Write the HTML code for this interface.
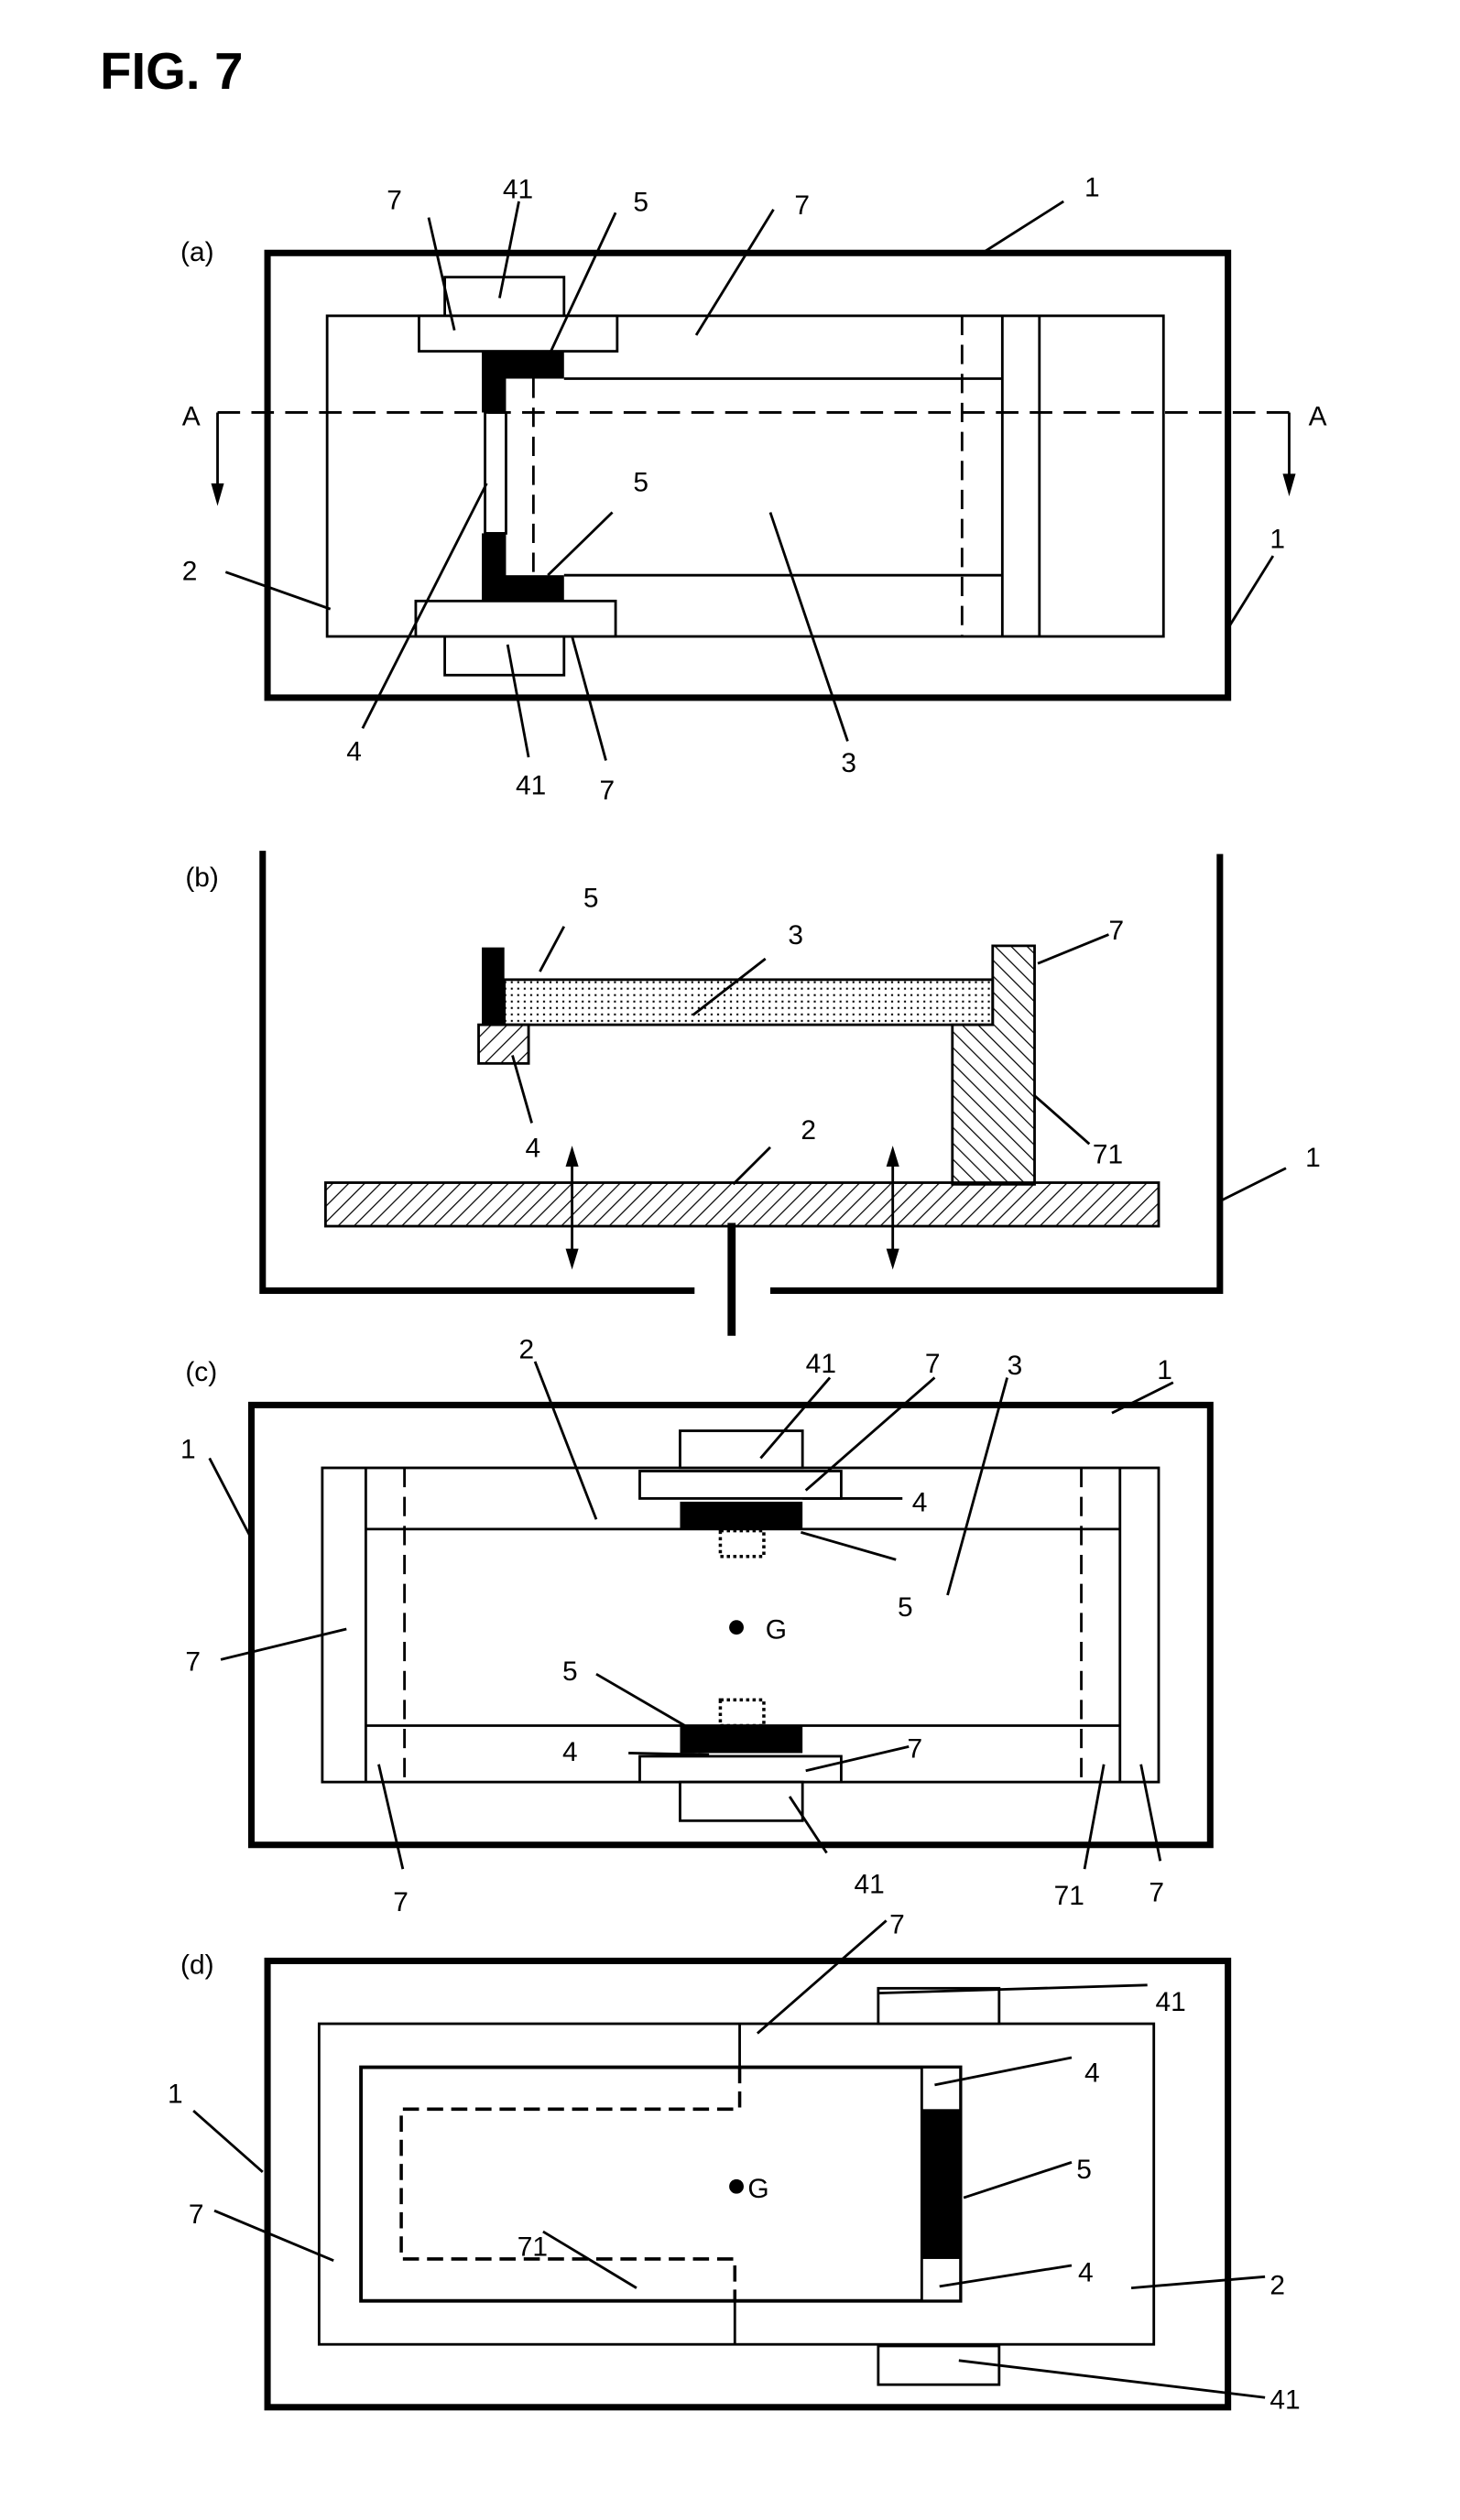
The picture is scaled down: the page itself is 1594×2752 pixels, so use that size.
<!DOCTYPE html>
<html><head><meta charset="utf-8"><style>
html,body{margin:0;padding:0;background:#fff;}
svg{display:block;}
text{font-family:"Liberation Sans",sans-serif;font-size:17px;fill:#000;}
</style></head><body>
<svg width="1594" height="2752" viewBox="0 0 906 1564" preserveAspectRatio="none" xmlns="http://www.w3.org/2000/svg">
<defs>
<pattern id="h1" width="7" height="7" patternUnits="userSpaceOnUse" patternTransform="rotate(45)"><line x1="0" y1="0" x2="0" y2="7" stroke="#000" stroke-width="1.4"/></pattern>
<pattern id="h2" width="7" height="7" patternUnits="userSpaceOnUse" patternTransform="rotate(-45)"><line x1="0" y1="0" x2="0" y2="7" stroke="#000" stroke-width="1.4"/></pattern>
<pattern id="dots" width="4" height="4" patternUnits="userSpaceOnUse"><rect x="1" y="1" width="1.2" height="1.2" fill="#000"/></pattern>
</defs>
<text x="62" y="55" style="font-size:32px;font-weight:bold">FIG. 7</text>

<!-- (a) -->
<g fill="none" stroke="#000" stroke-width="1.6">
<text x="112" y="162" stroke="none">(a)</text>
<rect x="166" y="157" width="596" height="276" stroke-width="4"/>
<rect x="203" y="196" width="519" height="199"/>
<rect x="276" y="172" width="74" height="24" fill="#fff"/>
<rect x="260" y="196" width="123" height="22" fill="#fff"/>
<rect x="276" y="395" width="74" height="24" fill="#fff"/>
<rect x="258" y="373" width="124" height="22" fill="#fff"/>
<line x1="350" y1="235" x2="622" y2="235"/>
<line x1="350" y1="357" x2="622" y2="357"/>
<line x1="331" y1="235" x2="331" y2="357" stroke-dasharray="12,6"/>
<line x1="597" y1="196" x2="597" y2="395" stroke-dasharray="12,6"/>
<line x1="622" y1="196" x2="622" y2="395"/>
<line x1="645" y1="196" x2="645" y2="395"/>
<rect x="301" y="256" width="13" height="75" fill="#fff"/>
<line x1="135" y1="256" x2="805" y2="256" stroke-dasharray="14,7"/>
<line x1="135" y1="256" x2="135" y2="302"/>
<line x1="800" y1="256" x2="800" y2="296"/>
<line x1="266" y1="135" x2="282" y2="205"/>
<line x1="322" y1="125" x2="310" y2="185"/>
<line x1="382" y1="132" x2="340" y2="222"/>
<line x1="480" y1="130" x2="432" y2="208"/>
<line x1="660" y1="125" x2="608" y2="158"/>
<line x1="140" y1="355" x2="205" y2="378"/>
<line x1="790" y1="345" x2="762" y2="390"/>
<line x1="380" y1="318" x2="340" y2="357"/>
<line x1="302" y1="300" x2="225" y2="452"/>
<line x1="315" y1="400" x2="328" y2="470"/>
<line x1="355" y1="395" x2="376" y2="472"/>
<line x1="478" y1="318" x2="526" y2="460"/>
</g>
<g fill="#000">
<polygon points="131,300 139,300 135,314"/>
<polygon points="796,294 804,294 800,308"/>
<rect x="299" y="218" width="51" height="17"/>
<rect x="299" y="218" width="15" height="38"/>
<rect x="299" y="331" width="15" height="42"/>
<rect x="299" y="357" width="51" height="16"/>
<text x="113" y="264">A</text><text x="812" y="264">A</text>
<text x="240" y="130">7</text><text x="312" y="123">41</text><text x="393" y="131">5</text>
<text x="493" y="133">7</text><text x="673" y="122">1</text><text x="113" y="360">2</text>
<text x="788" y="340">1</text><text x="393" y="305">5</text><text x="215" y="472">4</text>
<text x="320" y="493">41</text><text x="372" y="496">7</text><text x="522" y="479">3</text>
</g>

<!-- (b) -->
<g fill="none" stroke="#000" stroke-width="1.6">
<text x="115" y="550" stroke="none">(b)</text>
<polyline points="163,528 163,801 431,801" stroke-width="4"/>
<polyline points="478,801 757,801 757,530" stroke-width="4"/>
<line x1="454" y1="759" x2="454" y2="829" stroke-width="5"/>
<rect x="202" y="734" width="517" height="27" fill="url(#h1)"/>
<rect x="313" y="608" width="303" height="28" fill="url(#dots)"/>
<rect x="297" y="636" width="31" height="24" fill="url(#h1)"/>
<polygon points="616,587 642,587 642,735 591,735 591,636 616,636" fill="url(#h2)"/>
<line x1="355" y1="720" x2="355" y2="779"/>
<line x1="554" y1="720" x2="554" y2="779"/>
<line x1="350" y1="575" x2="335" y2="603"/>
<line x1="475" y1="595" x2="430" y2="630"/>
<line x1="688" y1="580" x2="644" y2="598"/>
<line x1="318" y1="655" x2="330" y2="697"/>
<line x1="478" y1="712" x2="455" y2="735"/>
<line x1="642" y1="680" x2="676" y2="710"/>
<line x1="798" y1="725" x2="758" y2="745"/>
</g>
<g fill="#000">
<polygon points="351,724 359,724 355,711"/>
<polygon points="351,775 359,775 355,788"/>
<polygon points="550,724 558,724 554,711"/>
<polygon points="550,775 558,775 554,788"/>
<rect x="299" y="588" width="14" height="48"/>
<text x="362" y="563">5</text><text x="489" y="586">3</text><text x="688" y="583">7</text>
<text x="326" y="718">4</text><text x="497" y="707">2</text><text x="678" y="722">71</text><text x="810" y="724">1</text>
</g>

<!-- (c) -->
<g fill="none" stroke="#000" stroke-width="1.6">
<text x="115" y="857" stroke="none">(c)</text>
<rect x="156" y="872" width="595" height="273" stroke-width="4"/>
<rect x="200" y="911" width="519" height="195"/>
<line x1="227" y1="911" x2="227" y2="1106"/>
<line x1="695" y1="911" x2="695" y2="1106"/>
<line x1="251" y1="911" x2="251" y2="1106" stroke-dasharray="12,6"/>
<line x1="671" y1="911" x2="671" y2="1106" stroke-dasharray="12,6"/>
<line x1="227" y1="949" x2="695" y2="949"/>
<line x1="227" y1="1071" x2="695" y2="1071"/>
<rect x="422" y="888" width="76" height="23" fill="#fff"/>
<rect x="397" y="913" width="125" height="17" fill="#fff"/>
<rect x="397" y="1090" width="125" height="16" fill="#fff"/>
<rect x="422" y="1106" width="76" height="24" fill="#fff"/>
<rect x="447" y="950" width="27" height="16" stroke-dasharray="2,2" stroke-width="2"/>
<rect x="447" y="1055" width="27" height="16" stroke-dasharray="2,2" stroke-width="2"/>
<line x1="498" y1="930" x2="560" y2="930"/>
<line x1="390" y1="1088" x2="440" y2="1089"/>
<line x1="332" y1="845" x2="370" y2="943"/>
<line x1="515" y1="855" x2="472" y2="905"/>
<line x1="580" y1="855" x2="500" y2="925"/>
<line x1="625" y1="855" x2="588" y2="990"/>
<line x1="728" y1="858" x2="690" y2="877"/>
<line x1="130" y1="905" x2="156" y2="955"/>
<line x1="497" y1="951" x2="556" y2="968"/>
<line x1="137" y1="1030" x2="215" y2="1011"/>
<line x1="370" y1="1039" x2="425" y2="1071"/>
<line x1="564" y1="1084" x2="500" y2="1099"/>
<line x1="235" y1="1095" x2="250" y2="1160"/>
<line x1="490" y1="1115" x2="513" y2="1150"/>
<line x1="685" y1="1095" x2="673" y2="1160"/>
<line x1="708" y1="1095" x2="720" y2="1155"/>
</g>
<g fill="#000">
<rect x="422" y="932" width="76" height="17"/>
<rect x="422" y="1071" width="76" height="17"/>
<circle cx="457" cy="1010" r="4.5"/>
<text x="475" y="1017">G</text>
<text x="322" y="843">2</text><text x="500" y="852">41</text><text x="574" y="852">7</text><text x="625" y="853">3</text>
<text x="718" y="856">1</text><text x="112" y="905">1</text><text x="566" y="938">4</text><text x="557" y="1003">5</text>
<text x="115" y="1037">7</text><text x="349" y="1043">5</text><text x="349" y="1093">4</text><text x="563" y="1091">7</text>
<text x="244" y="1186">7</text><text x="530" y="1175">41</text><text x="654" y="1182">71</text><text x="713" y="1180">7</text>
</g>

<!-- (d) -->
<g fill="none" stroke="#000" stroke-width="1.6">
<text x="112" y="1225" stroke="none">(d)</text>
<rect x="166" y="1217" width="596" height="277" stroke-width="4"/>
<rect x="198" y="1256" width="518" height="199"/>
<rect x="545" y="1234" width="75" height="22" fill="#fff"/>
<rect x="545" y="1456" width="75" height="24" fill="#fff"/>
<rect x="224" y="1283" width="372" height="145" fill="#fff" stroke-width="2.2"/>
<line x1="459" y1="1256" x2="459" y2="1283"/>
<line x1="456" y1="1428" x2="456" y2="1455"/>
<polyline points="459,1283 459,1309 249,1309 249,1402 456,1402 456,1428" stroke-dasharray="10,5" stroke-width="2"/>
<rect x="572" y="1283" width="24" height="145" fill="#fff"/>
<line x1="545" y1="1237" x2="712" y2="1232"/>
<line x1="550" y1="1192" x2="470" y2="1262"/>
<line x1="665" y1="1277" x2="580" y2="1294"/>
<line x1="665" y1="1342" x2="598" y2="1364"/>
<line x1="665" y1="1406" x2="583" y2="1419"/>
<line x1="785" y1="1413" x2="702" y2="1420"/>
<line x1="595" y1="1465" x2="785" y2="1488"/>
<line x1="120" y1="1310" x2="163" y2="1348"/>
<line x1="133" y1="1372" x2="207" y2="1403"/>
<line x1="337" y1="1385" x2="395" y2="1420"/>
</g>
<g fill="#000">
<rect x="572" y="1309" width="24" height="93"/>
<circle cx="457" cy="1357" r="4.5"/>
<text x="464" y="1364">G</text>
<text x="552" y="1200">7</text><text x="717" y="1248">41</text><text x="104" y="1305">1</text><text x="673" y="1292">4</text>
<text x="117" y="1380">7</text><text x="668" y="1352">5</text><text x="321" y="1400">71</text><text x="669" y="1416">4</text>
<text x="788" y="1424">2</text><text x="788" y="1495">41</text>
</g>
</svg>
</body></html>
